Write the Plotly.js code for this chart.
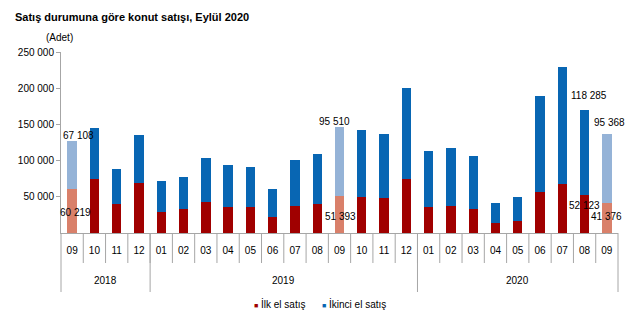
<!DOCTYPE html>
<html><head><meta charset="utf-8">
<script src="https://cdn.plot.ly/plotly-3.0.1.min.js"></script>
<style>html,body{margin:0;padding:0;background:#fff}</style>
</head><body><div id="chart" style="width:640px;height:326px"></div>
<script>
// ---- data ----
const years  = ["2018","2018","2018","2018",
                "2019","2019","2019","2019","2019","2019","2019","2019","2019","2019","2019","2019",
                "2020","2020","2020","2020","2020","2020","2020","2020","2020"];
const months = ["09","10","11","12",
                "01","02","03","04","05","06","07","08","09","10","11","12",
                "01","02","03","04","05","06","07","08","09"];
const firstHand  = [60219, 74000, 40300, 69300, 29700, 32500, 43500, 36600, 36600, 21900, 37600, 39400,
                    51393, 49500, 48100, 74800, 35700, 37100, 33800, 13500, 15900, 57300, 67000, 52123, 41376];
const secondHand = [67108, 71300, 48400, 66700, 41800, 44600, 60300, 58000, 54300, 38200, 63900, 70400,
                    95510, 92500, 89300, 126100, 77300, 80500, 73200, 27700, 33600, 132100, 162000, 118285, 95368];
const yTickVals  = [50000, 100000, 150000, 200000, 250000];
const yTickText  = ["50 000", "100 000", "150 000", "200 000", "250 000"];
const seriesNames = ["İlk el satış", "İkinci el satış"];
const labeledIdx = [0, 12, 23, 24];

// ---- styles ----
const C_RED = "#A00000", C_RED_L = "#D9806A", C_BLUE = "#0866B3", C_BLUE_L = "#95B3D7";
const GRID = "#A6A6A6";
const FONT = "Liberation Sans, Arial, sans-serif";
const highlightMonth = "09";
const topOff = {0:[6,5], 12:[-5,5.5], 23:[4,14], 24:[2.5,11.7]};
const botOff = {0:[3,-23], 12:[0.5,-20.4], 23:[0,-10], 24:[-0.7,-13.8]};

const N = months.length;
const keys = months.map((m, i) => years[i] + "-" + m);
const isHi = months.map(m => m === highlightMonth);
const fmt = v => String(v).replace(/\B(?=(\d{3})+(?!\d))/g, " ");

const traces = [
  {type: "bar", name: seriesNames[0], x: keys, y: firstHand, hoverinfo: "skip",
   marker: {color: isHi.map(h => h ? C_RED_L : C_RED)}},
  {type: "bar", name: seriesNames[1], x: keys, y: secondHand, hoverinfo: "skip",
   marker: {color: isHi.map(h => h ? C_BLUE_L : C_BLUE)}}
];

const W = 640, H = 326, mL = 61, mR = 22, mT = 52, mB = 93;
const plotH = H - mT - mB, plotW = W - mL - mR;
const pxY = px => -px / plotH;   // pixels below the x axis -> paper y

const shapes = [];
for (let i = 1; i < N; i++) {
  shapes.push({type: "line", xref: "paper", yref: "paper", x0: i / N, x1: i / N, y0: 0, y1: pxY(30),
               line: {color: GRID, width: 1}});
}
// year groups
const groups = [];
years.forEach((yr, i) => {
  if (!groups.length || groups[groups.length - 1].yr !== yr) groups.push({yr: yr, start: i, end: i});
  else groups[groups.length - 1].end = i;
});
const annotations = [];
groups.forEach((g, gi) => {
  shapes.push({type: "line", xref: "paper", yref: "paper", x0: g.start / N, x1: g.start / N, y0: 0, y1: pxY(59),
               line: {color: GRID, width: 1}});
  if (gi === groups.length - 1)
    shapes.push({type: "line", xref: "paper", yref: "paper", x0: (g.end + 1) / N, x1: (g.end + 1) / N, y0: 0, y1: pxY(59),
                 line: {color: GRID, width: 1}});
  annotations.push({xref: "paper", yref: "paper", x: (g.start + g.end + 1) / 2 / N, y: pxY(47),
    xanchor: "center", yanchor: "middle", text: g.yr, showarrow: false,
    font: {family: FONT, size: 10, color: "#000"}});
});

labeledIdx.forEach(i => {
  const xc = (i + 0.5) / N;
  annotations.push({xref: "paper", yref: "y", x: xc, y: firstHand[i] + secondHand[i],
    xshift: topOff[i][0], yshift: topOff[i][1], text: fmt(secondHand[i]), showarrow: false,
    xanchor: "center", yanchor: "middle", font: {family: FONT, size: 10, color: "#000"}});
  annotations.push({xref: "paper", yref: "y", x: xc, y: firstHand[i],
    xshift: botOff[i][0], yshift: botOff[i][1], text: fmt(firstHand[i]), showarrow: false,
    xanchor: "center", yanchor: "middle", font: {family: FONT, size: 10, color: "#000"}});
});
// unit label
annotations.push({xref: "paper", yref: "paper", x: (44 - mL) / plotW, y: 1 + (mT - 37) / plotH,
  xanchor: "left", yanchor: "middle", text: "(Adet)", showarrow: false,
  font: {family: FONT, size: 10, color: "#000"}});
// legend
const legItems = [[252, C_RED, seriesNames[0]], [320, C_BLUE, seriesNames[1]]];
legItems.forEach(([px, col, name]) => {
  annotations.push({xref: "paper", yref: "paper", x: (px - mL) / plotW, y: pxY(303.5 - (H - mB)),
    xanchor: "left", yanchor: "middle", showarrow: false,
    text: '<span style="color:' + col + ';font-size:7px">■</span> ' + name,
    font: {family: FONT, size: 10, color: "#000"}});
});

const layout = {
  width: W, height: H,
  margin: {l: mL, r: mR, t: mT, b: mB, pad: 0},
  paper_bgcolor: "#fff", plot_bgcolor: "#fff",
  font: {family: FONT, size: 10, color: "#000"},
  title: {text: "<b>Satış durumuna göre konut satışı, Eylül 2020</b>", x: 15 / W, xanchor: "left",
          xref: "container", y: 1 - 17 / H, yanchor: "middle", yref: "container",
          font: {family: FONT, size: 11, color: "#000"}},
  barmode: "stack", bargap: 0.58,
  showlegend: false,
  xaxis: {type: "category", tickmode: "array", tickvals: keys, ticktext: months,
          showline: true, linecolor: GRID, showgrid: false, zeroline: false,
          ticks: "outside", ticklen: 8, tickcolor: "rgba(0,0,0,0)",
          tickfont: {family: FONT, size: 10, color: "#000"}},
  yaxis: {range: [0, 250000], tickvals: yTickVals, ticktext: yTickText, showline: true, linecolor: GRID,
          ticks: "outside", ticklen: 4, tickcolor: GRID, showgrid: false, zeroline: false,
          tickfont: {family: FONT, size: 10, color: "#000"}},
  shapes: shapes, annotations: annotations
};

Plotly.newPlot("chart", traces, layout, {displayModeBar: false, staticPlot: true});
</script>
</body></html>
